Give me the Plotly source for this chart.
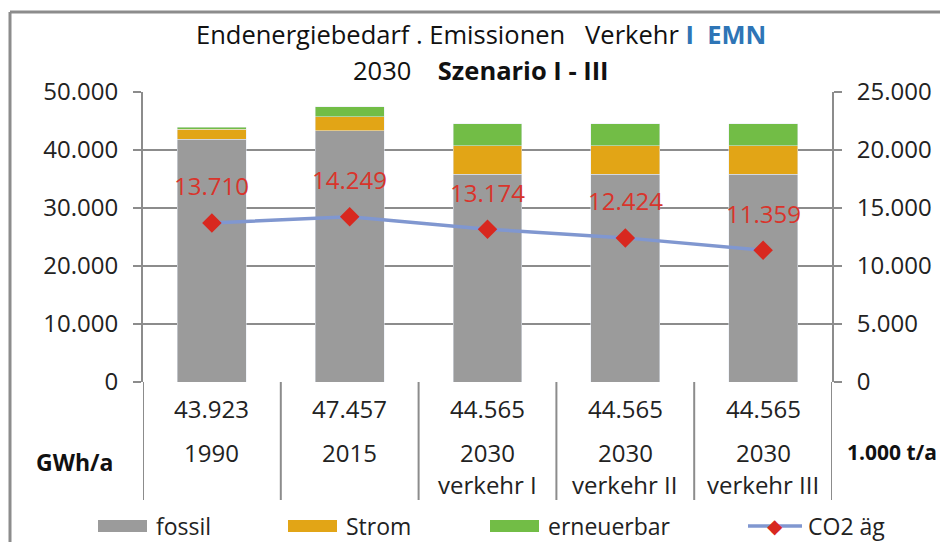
import plotly.graph_objects as go

# ---- data ----
categories = ["1990", "2015", "2030 I", "2030 II", "2030 III"]
year_labels = ["1990", "2015", "2030", "2030", "2030"]
scenario_labels = ["", "", "verkehr I", "verkehr II", "verkehr III"]
fossil = [41840, 43330, 35860, 35860, 35860]
strom = [1730, 2410, 4880, 4880, 4880]
erneuerbar = [353, 1717, 3825, 3825, 3825]
co2 = [13710, 14249, 13174, 12424, 11359]

# page has an 8px body margin -> figure is 8px smaller and shifted
OFF = 8
W, H = 948 - OFF, 542 - OFF
L, R, T, B = 143, 832, 92, 382  # plot area in reference px


def px(x):
    return (x - L) / (R - L)


def py(y):
    return (B - y) / (B - T)


def de(n):
    return f"{n:,}".replace(",", ".")


FONT = "Open Sans"
FS = 24
GRAY = "#8c8c8c"
TXT = "#222222"
C_FOSSIL, C_STROM, C_ERN = "#9b9b9b", "#e2a516", "#72bd46"
C_LINE, C_MARK, C_LBL = "#8097d0", "#d8281f", "#d9342b"

fig = go.Figure()
fig.add_bar(x=categories, y=fossil, name="fossil", marker_color=C_FOSSIL, width=0.5)
fig.add_bar(x=categories, y=strom, name="Strom", marker_color=C_STROM, width=0.5)
fig.add_bar(x=categories, y=erneuerbar, name="erneuerbar", marker_color=C_ERN, width=0.5)
fig.add_scatter(x=categories, y=co2, name="CO2 äg", yaxis="y2", mode="lines+markers",
                line=dict(color=C_LINE, width=3.5),
                marker=dict(symbol="diamond", size=15, color=C_MARK))

ann = []
shapes = []


def A(**kw):
    kw.setdefault("showarrow", False)
    kw.setdefault("xanchor", "center")
    kw.setdefault("yanchor", "middle")
    ann.append(kw)


# CO2 value labels (category index positions)
for i, v in enumerate(co2):
    A(x=i, y=v, xref="x", yref="y2", text=de(v), yshift=37,
      font=dict(color=C_LBL, size=FS, family=FONT))

# table below the axis
totals = [f + s + e for f, s, e in zip(fossil, strom, erneuerbar)]
for i, (t, yl, sl) in enumerate(zip(totals, year_labels, scenario_labels)):
    A(x=i, y=py(408), xref="x", yref="paper", text=de(t), font=dict(size=FS, color=TXT, family=FONT))
    A(x=i, y=py(452), xref="x", yref="paper", text=yl, font=dict(size=FS, color=TXT, family=FONT))
    if sl:
        A(x=i, y=py(484), xref="x", yref="paper", text=sl, font=dict(size=FS, color=TXT, family=FONT))
for i in range(len(categories) + 1):
    shapes.append(dict(type="line", xref="x", yref="paper", x0=i - 0.5, x1=i - 0.5,
                       y0=0, y1=py(500), line=dict(color=GRAY, width=2)))

A(x=px(74), y=py(462), xref="paper", yref="paper", text="<b>GWh/a</b>",
  font=dict(size=23, color="#111", family=FONT))
A(x=px(845), y=py(452), xref="paper", yref="paper", text="<b>1.000 t/a</b>", xanchor="left",
  font=dict(size=21, color="#111", family=FONT))

# title
A(x=px(481), y=py(34), xref="paper", yref="paper",
  text="Endenergiebedarf . Emissionen   Verkehr <span style='color:#2e75b6'><b>I  EMN</b></span>",
  font=dict(size=25.5, color="#111", family=FONT))
A(x=px(481), y=py(70), xref="paper", yref="paper",
  text="2030    <b>Szenario I - III</b>",
  font=dict(size=25.5, color="#111", family=FONT))

# legend
leg_y = 526
for x0, col, name in [(98, C_FOSSIL, "fossil"), (288, C_STROM, "Strom"), (490, C_ERN, "erneuerbar")]:
    shapes.append(dict(type="rect", xref="paper", yref="paper", x0=px(x0), x1=px(x0 + 49),
                       y0=py(leg_y + 6), y1=py(leg_y - 6), fillcolor=col, line=dict(width=0)))
    A(x=px(x0 + 56), y=py(leg_y), xref="paper", yref="paper", text=name, xanchor="left",
      font=dict(size=23, color=TXT, family=FONT))
shapes.append(dict(type="line", xref="paper", yref="paper", x0=px(748), x1=px(802),
                   y0=py(leg_y), y1=py(leg_y), line=dict(color=C_LINE, width=3.5)))
A(x=px(775), y=py(leg_y), xref="paper", yref="paper", text="◆",
  font=dict(size=20, color=C_MARK, family="DejaVu Sans"))
A(x=px(806), y=py(leg_y), xref="paper", yref="paper", text="CO2 äg", xanchor="left",
  font=dict(size=23, color=TXT, family=FONT))

# outer frame
shapes.append(dict(type="line", xref="paper", yref="paper", x0=px(10), x1=px(960),
                   y0=py(12), y1=py(12), line=dict(color=GRAY, width=3)))
shapes.append(dict(type="line", xref="paper", yref="paper", x0=px(10), x1=px(10),
                   y0=py(12), y1=py(560), line=dict(color=GRAY, width=3)))

axis_common = dict(showline=True, linecolor=GRAY, linewidth=2, ticks="outside",
                   ticklen=8, tickcolor=GRAY, tickwidth=2, tickformat=",d",
                   tickfont=dict(size=FS, color=TXT, family=FONT), zeroline=False)

fig.update_layout(
    width=W, height=H,
    margin=dict(l=L - OFF, r=(948 - R), t=T - OFF, b=(542 - B)),
    paper_bgcolor="white", plot_bgcolor="white",
    barmode="stack", bargap=0.5,
    separators=",.",
    showlegend=False,
    font=dict(family=FONT, color=TXT),
    xaxis=dict(type="category", range=[-0.5, 4.5], showticklabels=False, showgrid=False,
               showline=False, ticks=""),
    yaxis=dict(range=[0, 50000], dtick=10000, showgrid=True, gridcolor=GRAY, gridwidth=2,
               ticklabelstandoff=10, **axis_common),
    yaxis2=dict(range=[0, 25000], dtick=5000, overlaying="y", side="right", showgrid=False,
                ticklabelstandoff=10, **axis_common),
    annotations=ann, shapes=shapes,
)

fig.write_html("out.html")
